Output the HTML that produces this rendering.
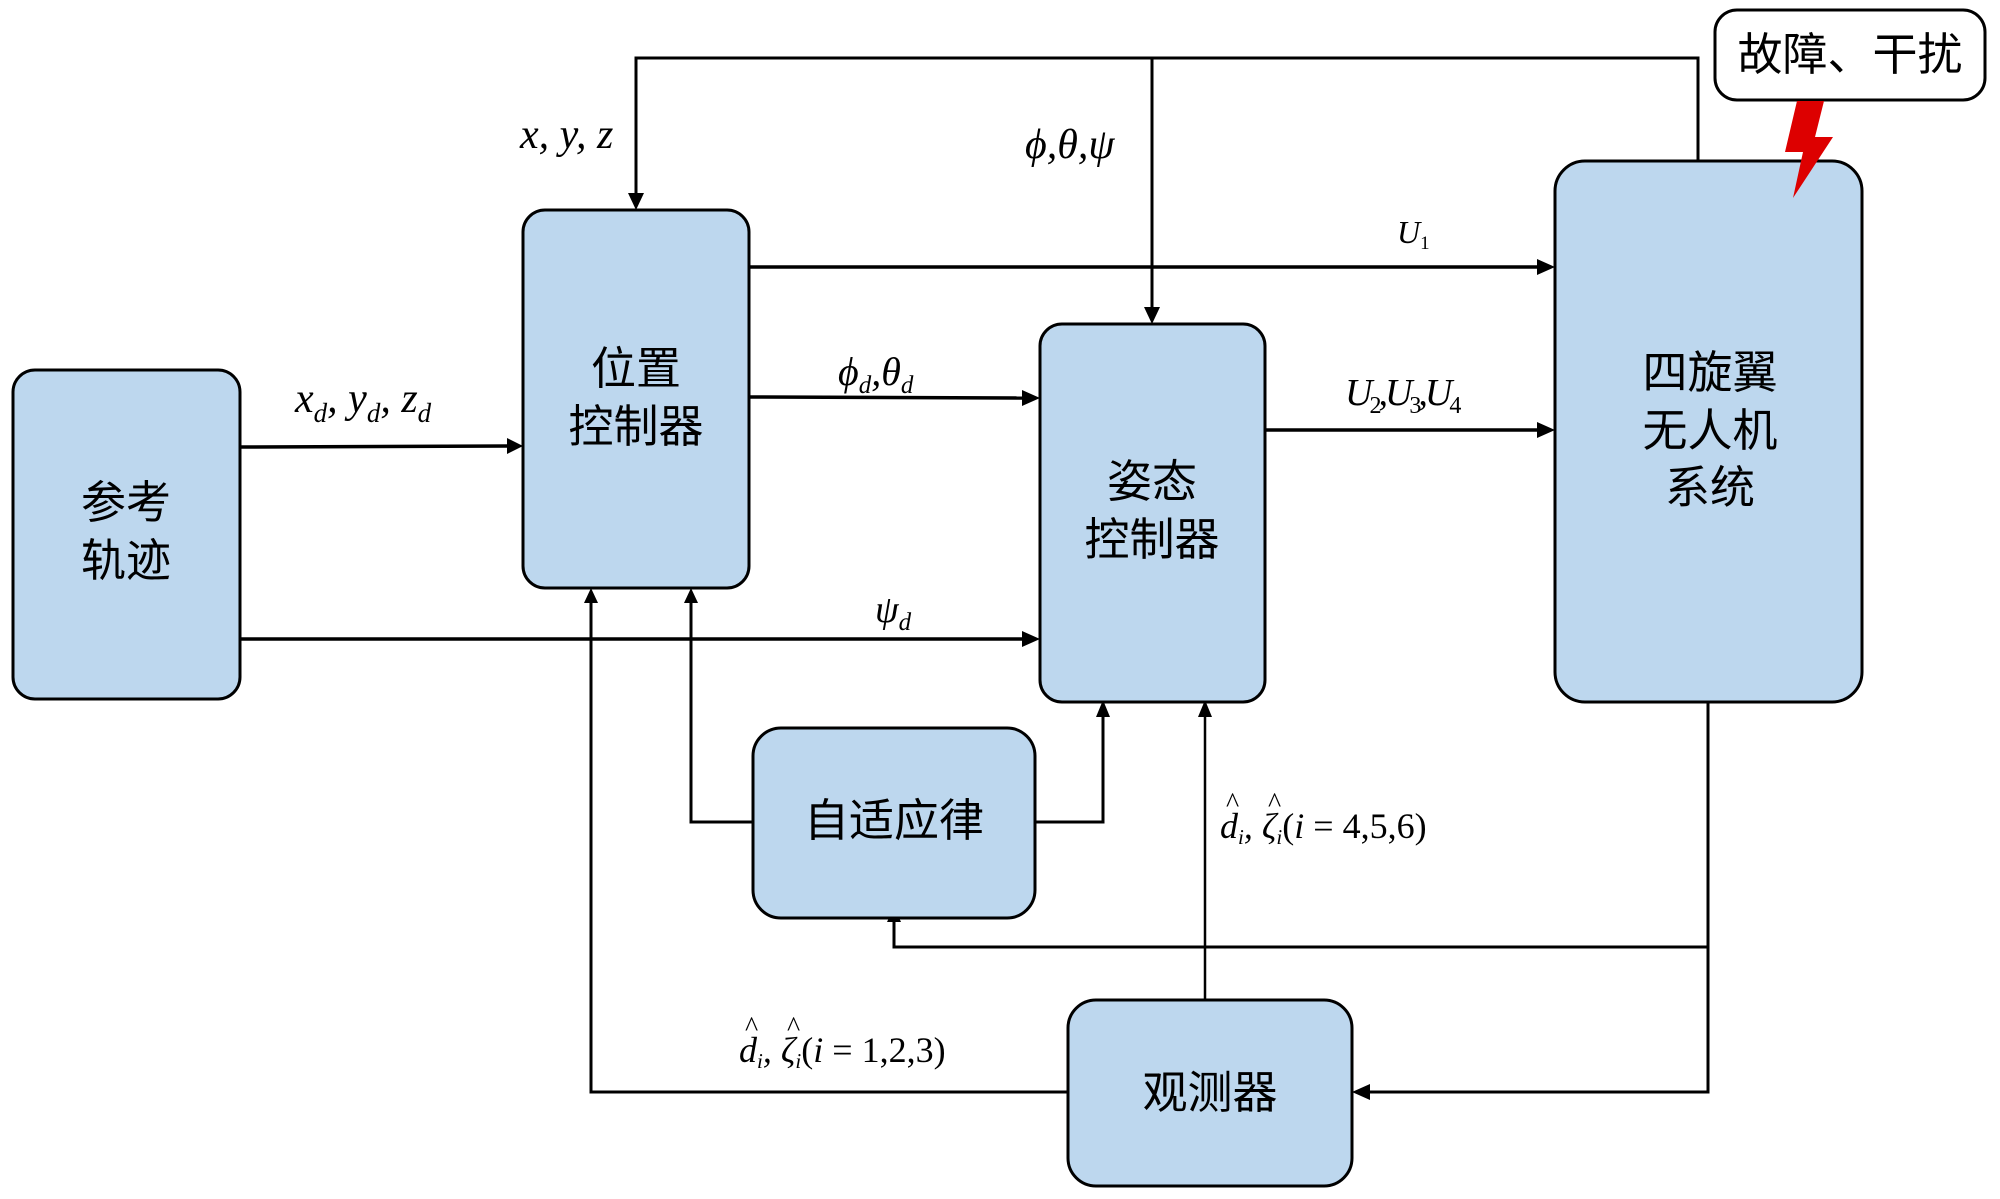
<!DOCTYPE html>
<html><head><meta charset="utf-8"><style>
html,body{margin:0;padding:0;background:#fff}
svg{display:block}
.cn{font-family:"Liberation Sans","Noto Sans CJK SC",sans-serif;font-size:45px;fill:#000;text-anchor:middle}
.m{font-family:"Liberation Serif",serif;font-style:italic;fill:#000}
.n{font-family:"Liberation Serif",serif;font-style:normal}
</style></head><body>
<svg width="2000" height="1199" viewBox="0 0 2000 1199" xmlns="http://www.w3.org/2000/svg">
<g fill="none" stroke="#000" stroke-width="3">
<!-- top feedback -->
<polyline points="1698,161 1698,58 636,58 636,195"/>
<path d="M628,193 L636,210 L644,193 z" fill="#000" stroke="none"/>
<line x1="1152" y1="58" x2="1152" y2="308"/>
<path d="M1144,307 L1152,324 L1160,307 z" fill="#000" stroke="none"/>
<!-- U1 -->
<line x1="749" y1="267" x2="1540" y2="267" stroke-width="3.5"/>
<path d="M1537,259 L1555,267 L1537,275 z" fill="#000" stroke="none"/>
<!-- phi_d theta_d -->
<line x1="749" y1="397" x2="1025" y2="398" stroke-width="3.5"/>
<path d="M1022,390 L1040,398 L1022,406 z" fill="#000" stroke="none"/>
<!-- xd -->
<line x1="240" y1="447" x2="510" y2="446" stroke-width="3.5"/>
<path d="M507,438 L523,446 L507,454 z" fill="#000" stroke="none"/>
<!-- psi_d -->
<line x1="240" y1="639" x2="1025" y2="639" stroke-width="3.5"/>
<path d="M1022,631 L1040,639 L1022,647 z" fill="#000" stroke="none"/>
<!-- U2U3U4 -->
<line x1="1265" y1="430" x2="1540" y2="430" stroke-width="3.5"/>
<path d="M1537,422 L1555,430 L1537,438 z" fill="#000" stroke="none"/>
<!-- adaptive -->
<polyline points="753,822 691,822 691,600"/>
<path d="M684,603 L691,588 L698,603 z" fill="#000" stroke="none"/>
<polyline points="1035,822 1103,822 1103,715"/>
<path d="M1096,717 L1103,700 L1110,717 z" fill="#000" stroke="none"/>
<!-- observer up -->
<line x1="1205" y1="1000" x2="1205" y2="715" stroke-width="2.5"/>
<path d="M1198,717 L1205,700 L1212,717 z" fill="#000" stroke="none"/>
<!-- quad bottom -->
<polyline points="1708,702 1708,1092 1368,1092"/>
<path d="M1370,1084 L1352,1092 L1370,1100 z" fill="#000" stroke="none"/>
<polyline points="1708,947 894,947 894,922"/>
<path d="M887,922 L894,907 L901,922 z" fill="#000" stroke="none"/>
<!-- observer left -->
<polyline points="1068,1092 591,1092 591,600"/>
<path d="M584,603 L591,588 L598,603 z" fill="#000" stroke="none"/>
</g>
<g fill="#BDD7EE" stroke="#000" stroke-width="3">
<rect x="13" y="370" width="227" height="329" rx="22"/>
<rect x="523" y="210" width="226" height="378" rx="22"/>
<rect x="1040" y="324" width="225" height="378" rx="22"/>
<rect x="1555" y="161" width="307" height="541" rx="30"/>
<rect x="753" y="728" width="282" height="190" rx="28"/>
<rect x="1068" y="1000" width="284" height="186" rx="28"/>
</g>
<rect x="1715" y="10" width="270" height="90" rx="22" fill="#fff" stroke="#000" stroke-width="3"/>
<polygon points="1797,101 1824,101 1815,137 1833,137 1793,198 1803,152 1785,152" fill="#DD0000"/>
<text class="cn" x="1850" y="70" font-size="42">故障、干扰</text>
<text class="cn" x="126" y="518">参考</text>
<text class="cn" x="126" y="576">轨迹</text>
<text class="cn" x="636" y="384">位置</text>
<text class="cn" x="636" y="442">控制器</text>
<text class="cn" x="1152" y="497">姿态</text>
<text class="cn" x="1152" y="555">控制器</text>
<text class="cn" x="1710" y="388">四旋翼</text>
<text class="cn" x="1710" y="446">无人机</text>
<text class="cn" x="1710" y="503">系统</text>
<text class="cn" x="894" y="836">自适应律</text>
<text class="cn" x="1210" y="1108">观测器</text>
<!-- math labels -->
<text class="m" x="520" y="148" font-size="42">x, y, z</text>
<text class="m" x="1025" y="158" font-size="42">ϕ,θ,ψ</text>
<text class="m" x="295" y="412" font-size="42">x<tspan font-size="27" dy="10">d</tspan><tspan dy="-10">, y</tspan><tspan font-size="27" dy="10">d</tspan><tspan dy="-10">, z</tspan><tspan font-size="27" dy="10">d</tspan></text>
<text class="m" x="838" y="385" font-size="40">ϕ<tspan font-size="25" dy="8">d</tspan><tspan dy="-8">,θ</tspan><tspan font-size="25" dy="8">d</tspan></text>
<text class="m" x="875" y="622" font-size="38">ψ<tspan font-size="25" dy="8">d</tspan></text>
<text class="m" x="1397" y="243" font-size="32">U<tspan class="n" font-size="19" dy="6">1</tspan></text>
<text class="m" x="1345" y="405" font-size="38" letter-spacing="-3">U<tspan class="n" font-size="24" dy="8">2</tspan><tspan dy="-8">,U</tspan><tspan class="n" font-size="24" dy="8">3</tspan><tspan dy="-8">,U</tspan><tspan class="n" font-size="24" dy="8">4</tspan></text>
<!-- labels with hats -->
<text class="m" x="1220" y="838" font-size="36">d<tspan font-size="21" dy="6">i</tspan><tspan dy="-6">, ζ</tspan><tspan font-size="21" dy="6">i</tspan><tspan dy="-6" class="n">(</tspan>i<tspan class="n"> = 4,5,6)</tspan></text>
<text class="n" x="1226" y="812" font-size="28">^</text>
<text class="n" x="1268" y="812" font-size="28">^</text>
<text class="m" x="739" y="1062" font-size="36">d<tspan font-size="21" dy="6">i</tspan><tspan dy="-6">, ζ</tspan><tspan font-size="21" dy="6">i</tspan><tspan dy="-6" class="n">(</tspan>i<tspan class="n"> = 1,2,3)</tspan></text>
<text class="n" x="745" y="1036" font-size="28">^</text>
<text class="n" x="787" y="1036" font-size="28">^</text>
</svg>
</body></html>
